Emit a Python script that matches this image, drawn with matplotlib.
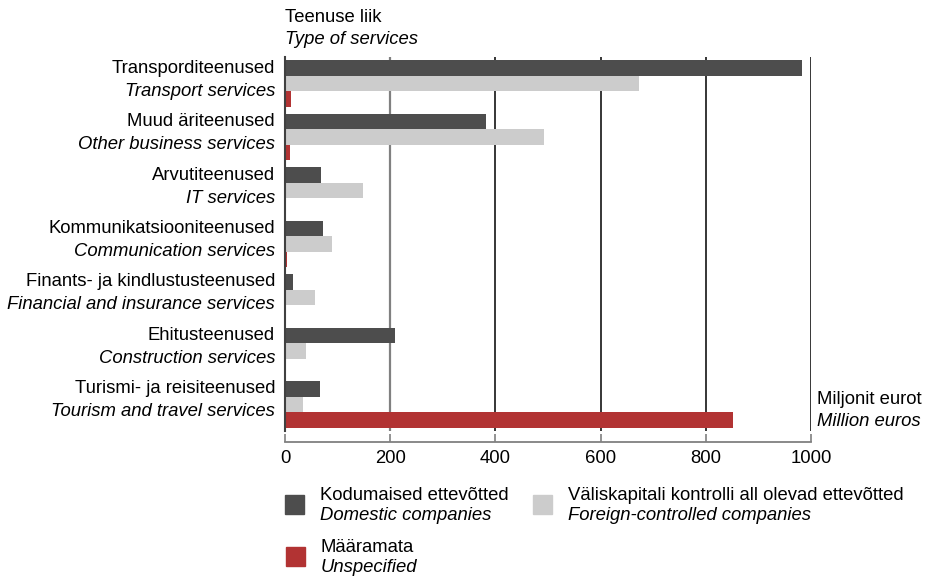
import matplotlib.pyplot as plt
from matplotlib.patches import Rectangle

plt.rcParams['font.family'] = ['Liberation Sans', 'DejaVu Sans']

# Andmed / data (miljonit eurot)
labels_et = ["Transporditeenused", "Muud äriteenused", "Arvutiteenused",
             "Kommunikatsiooniteenused", "Finants- ja kindlustusteenused",
             "Ehitusteenused", "Turismi- ja reisiteenused"]
labels_en = ["Transport services", "Other business services", "IT services",
             "Communication services", "Financial and insurance services",
             "Construction services", "Tourism and travel services"]
domestic = [982, 383, 68, 72, 15, 209, 67]
foreign = [673, 492, 148, 89, 57, 40, 34]
unspecified = [11, 9, 1, 4, 1, 1, 852]
xticks = [0, 200, 400, 600, 800, 1000]

c_dom = "#4d4d4d"
c_for = "#cccccc"
c_uns = "#b23333"
fs = 13.3

fig = plt.figure(figsize=(9.25, 5.8), dpi=100)
W, H = 925, 580


def fx(px):
    return px / W


def fy(py):
    return 1 - py / H


ax = fig.add_axes([fx(285), fy(431), fx(811) - fx(285), fy(57) - fy(431)])

h = 0.29
y = list(range(len(labels_et)))
ax.barh([v - h for v in y], domestic, height=h, color=c_dom, zorder=2)
ax.barh(y, foreign, height=h, color=c_for, zorder=2)
ax.barh([v + h for v in y], unspecified, height=h, color=c_uns, zorder=2)

ax.set_xlim(0, 1000)
ax.set_ylim(6.5, -0.5)

# ruudujooned
for t in xticks[1:]:
    col = "#808080" if t == 200 else "black"
    lw = 1.6 if t == 200 else 1.1
    ax.axvline(t, color=col, lw=lw, zorder=1)

for s in ["top", "right"]:
    ax.spines[s].set_visible(False)
ax.spines["left"].set_color("#404040")
ax.spines["left"].set_linewidth(1.5)
ax.spines["bottom"].set_position(("outward", 8))
ax.spines["bottom"].set_color("#808080")
ax.spines["bottom"].set_linewidth(1.3)
ax.set_yticks([])
ax.set_xticks(xticks)
ax.set_xticklabels([str(t) for t in xticks], fontsize=fs)
ax.tick_params(axis="x", direction="in", length=6, width=1.2, colors="#808080",
               labelcolor="black", pad=6)

# kategooria sildid
tr = ax.get_yaxis_transform()
for i in y:
    ax.text(-0.019, i - h, labels_et[i], transform=tr, ha="right", va="center",
            fontsize=fs)
    ax.text(-0.019, i + 0.14, labels_en[i], transform=tr, ha="right", va="center",
            fontsize=fs, style="italic")

fig.text(fx(285), fy(18), "Teenuse liik", ha="left", va="center", fontsize=fs)
fig.text(fx(285), fy(40), "Type of services", ha="left", va="center",
         fontsize=fs, style="italic")
fig.text(fx(817), fy(400), "Miljonit eurot", ha="left", va="center", fontsize=fs)
fig.text(fx(817), fy(422), "Million euros", ha="left", va="center",
         fontsize=fs, style="italic")

# legend
legend_items = [(285, 495, c_dom, "Kodumaised ettevõtted", "Domestic companies"),
                (533, 495, c_for, "Väliskapitali kontrolli all olevad ettevõtted",
                 "Foreign-controlled companies"),
                (286, 547, c_uns, "Määramata", "Unspecified")]
for x0, y0, col, t1, t2 in legend_items:
    fig.add_artist(Rectangle((fx(x0), fy(y0 + 19)), fx(19), 19 / H,
                             transform=fig.transFigure, color=col))
    fig.text(fx(x0 + 35), fy(y0), t1, ha="left", va="center", fontsize=fs)
    fig.text(fx(x0 + 35), fy(y0 + 21), t2, ha="left", va="center",
             fontsize=fs, style="italic")

fig.savefig("out.png", dpi=100)
